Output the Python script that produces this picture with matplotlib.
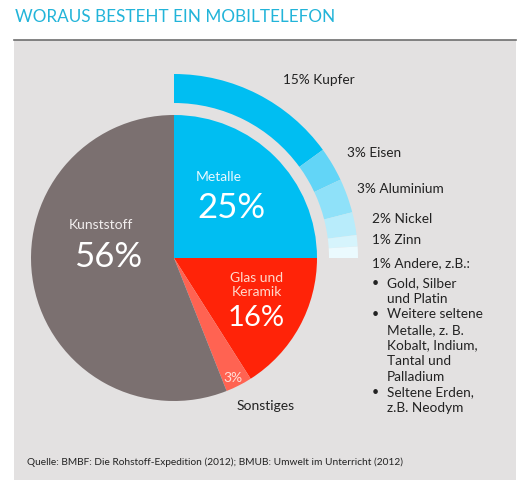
import matplotlib.pyplot as plt
from matplotlib.patches import Rectangle

# data
main_labels = ["Metalle", "Glas und\nKeramik", "Sonstiges", "Kunststoff"]
main_values = [25, 16, 3, 56]
main_colors = ["#00BEF2", "#FF2308", "#FF6352", "#7B7070"]

metal_labels = ["Kupfer", "Eisen", "Aluminium", "Nickel", "Zinn", "Andere, z.B.:"]
metal_values = [15, 3, 3, 2, 1, 1]
metal_colors = ["#00BEF2", "#62D5F7", "#8FE1F9", "#B8ECFB", "#D6F4FC", "#EBFAFE"]

andere_lines = [
    ["Gold, Silber", "und Platin"],
    ["Weitere seltene", "Metalle, z. B.", "Kobalt, Indium,", "Tantal und", "Palladium"],
    ["Seltene Erden,", "z.B. Neodym"],
]

W, H = 523, 480
plt.rcParams["font.family"] = ["Lato", "DejaVu Sans"]

fig = plt.figure(figsize=(W / 100, H / 100), dpi=100)
ax = fig.add_axes([0, 0, 1, 1])


def Y(py):
    return H - py


# panel
ax.add_patch(Rectangle((14, 0), 502, Y(40), facecolor="#E3E1E1", edgecolor="none", zorder=0))
ax.plot([14, 516], [Y(40), Y(40)], color="#6E6E6E", lw=1.2, zorder=1)

ax.text(15, Y(17), "WORAUS BESTEHT EIN MOBILTELEFON", color="#22B4D9",
        fontsize=12.3, va="center", ha="left")

cx, cy, r = 174, Y(258), 143

ax.pie(main_values, colors=main_colors, startangle=90, counterclock=False,
       center=(cx, cy), radius=r, frame=True,
       wedgeprops=dict(linewidth=0))

# outer ring for metals: occupies the same quarter as the Metalle slice
ring_vals = metal_values + [100 - sum(metal_values)]
ring_cols = metal_colors + ["none"]
ax.pie(ring_vals, colors=ring_cols, startangle=90, counterclock=False,
       center=(cx, cy), radius=184, frame=True,
       wedgeprops=dict(width=29, linewidth=0))
ax.set_xlim(0, W)
ax.set_ylim(0, H)
ax.set_aspect("equal")
ax.axis("off")

# labels inside pie
ax.text(101, Y(225), "Kunststoff", color="#F2EEEE", fontsize=10, ha="center", va="center")
ax.text(108, Y(257), "56%", color="white", fontsize=25, ha="center", va="center")
ax.text(219, Y(177), "Metalle", color="#E6F8FF", fontsize=10, ha="center", va="center")
ax.text(231, Y(208), "25%", color="white", fontsize=25, ha="center", va="center")
ax.text(257, Y(285), "Glas und\nKeramik", color="#FFD9CC", fontsize=10, ha="center",
        va="center", linespacing=1.25)
ax.text(256, Y(318), "16%", color="white", fontsize=21, ha="center", va="center")
ax.text(233, Y(378), "3%", color="#FFE0DA", fontsize=10, ha="center", va="center")
ax.text(266, Y(406), "Sonstiges", color="#222222", fontsize=10, ha="center", va="center")

# outer labels
label_pos = [(283, 80), (347, 153), (357, 189), (372, 219), (372, 240), (372, 263)]
for lab, val, (px, py) in zip(metal_labels, metal_values, label_pos):
    ax.text(px, Y(py), f"{val}% {lab}", color="#222222", fontsize=9.8, ha="left", va="center")

py = 283
for group in andere_lines:
    ax.text(375, Y(py), "•", color="#222222", fontsize=9, ha="center", va="center")
    for line in group:
        ax.text(387, Y(py), line, color="#222222", fontsize=9.8, ha="left", va="center")
        py += 15.6

ax.text(27, Y(462), "Quelle: BMBF: Die Rohstoff-Expedition (2012); BMUB: Umwelt im Unterricht (2012)",
        color="#222222", fontsize=7.3, ha="left", va="center")

fig.savefig("out.png", dpi=100)
